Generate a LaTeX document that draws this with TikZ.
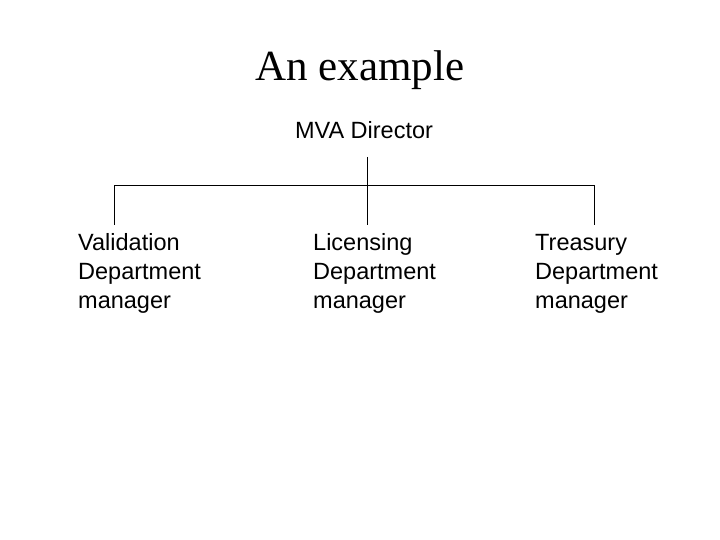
\documentclass[tikz,border=0pt]{standalone}
\usepackage{fontspec}
\setmainfont{Liberation Serif}
\setsansfont{Liberation Sans}
\usepackage{tikz}

\tikzset{
  heading/.style={font=\fontsize{43}{50}\selectfont\rmfamily, inner sep=0pt},
  role/.style={font=\fontsize{23.5}{29}\selectfont\sffamily, align=left, inner sep=0pt},
  link/.style={line width=1pt}
}

\begin{document}
\begin{tikzpicture}[x=1pt,y=-1pt]
    \useasboundingbox (0,0) rectangle (720,540);

    % title and top of the chart
    \node[heading] (title) at (360,70) {An example};
    \node[role] (director) at (364,130) {MVA Director};

    % the three managers
    \node[role, anchor=north west] (validation) at (78,230) {\strut Validation\\Department\\manager};
    \node[role, anchor=north west] (licensing) at (313,230) {\strut Licensing\\Department\\manager};
    \node[role, anchor=north west] (treasury) at (535,230) {\strut Treasury\\Department\\manager};

    % branch points
    \coordinate (top) at (367,157);
    \coordinate (busM) at (367,186);
    \coordinate (busL) at (114,186);
    \coordinate (busR) at (594,186);
    \coordinate (dropL) at (114,225);
    \coordinate (dropM) at (367,225);
    \coordinate (dropR) at (594,225);

    \draw[link] (top) -- (dropM);
    \draw[link] (dropL) -- (busL) -- (busR) -- (dropR);
\end{tikzpicture}
\end{document}
